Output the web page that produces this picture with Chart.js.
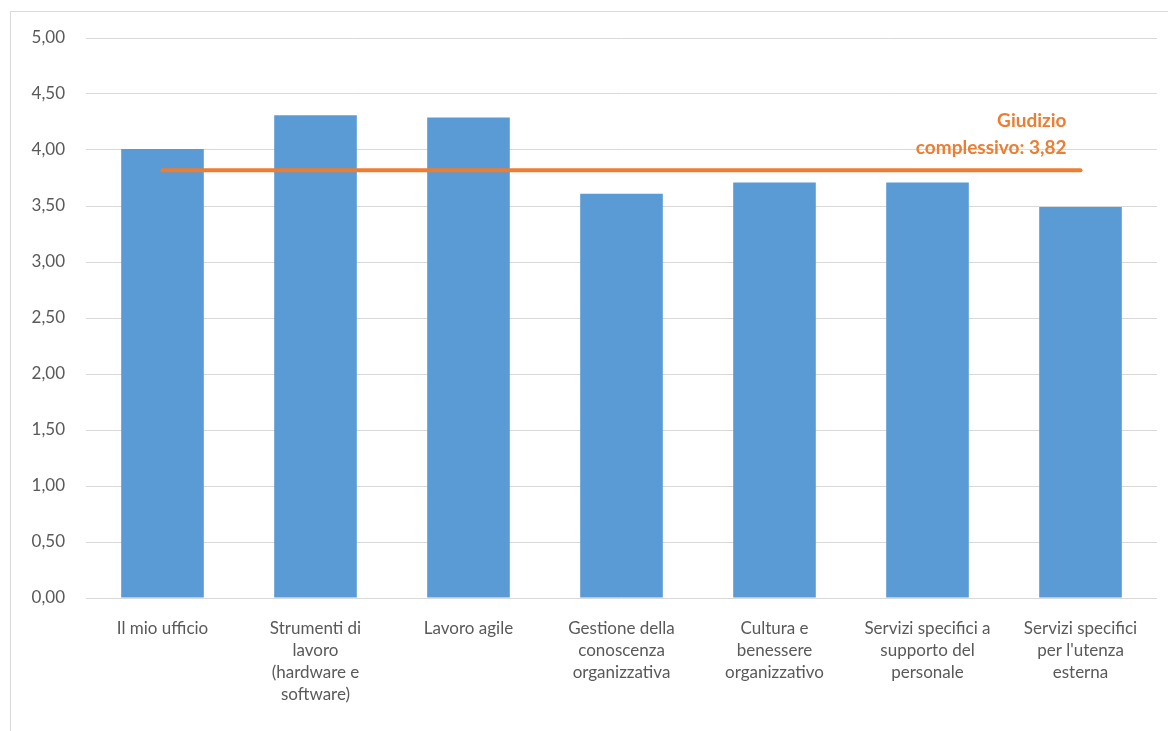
<!DOCTYPE html>
<html>
<head>
<meta charset="utf-8">
<script src="https://cdn.jsdelivr.net/npm/chart.js@4"></script>
<style>
  html, body { margin: 0; padding: 0; background: #fff; }
  .box { position: relative; width: 1168px; height: 731px; overflow: hidden; }
  .frame { position: absolute; left: 10px; top: 11px; width: 1180px; height: 740px; border: 1px solid #d9d9d9; }
  canvas { position: absolute; left: 0; top: 0; }
</style>
</head>
<body>
<div class="box">
  <div class="frame"></div>
  <canvas id="chart" width="1168" height="731"></canvas>
</div>
<script>
'use strict';

// categories and scores
var categories = [
  'Il mio ufficio',
  ['Strumenti di', 'lavoro', '(hardware e', 'software)'],
  'Lavoro agile',
  ['Gestione della', 'conoscenza', 'organizzativa'],
  ['Cultura e', 'benessere', 'organizzativo'],
  ['Servizi specifici a', 'supporto del', 'personale'],
  ['Servizi specifici', 'per l\'utenza', 'esterna']
];
var scores = [4.01, 4.31, 4.29, 3.61, 3.71, 3.71, 3.49];
var overall = 3.82;
var overallLabel = ['Giudizio', 'complessivo: 3,82'];

var blue = '#5b9bd5',
    orange = '#ed7d31',
    grey = '#595959';

// text above the right end of the overall line
var overallText = {
  id: 'overallText',
  afterDatasetsDraw: function (chart) {
    var ctx = chart.ctx,
        x = chart.scales.x.getPixelForValue(categories.length - 1) - 14,
        y = chart.scales.y.getPixelForValue(overall);
    ctx.save();
    ctx.fillStyle = orange;
    ctx.font = 'bold 19px Lato';
    ctx.textAlign = 'right';
    ctx.textBaseline = 'alphabetic';
    ctx.fillText(overallLabel[0], x, y - 43);
    ctx.fillText(overallLabel[1], x, y - 16);
    ctx.restore();
  }
};

new Chart(document.getElementById('chart'), {
  data: {
    labels: categories,
    datasets: [{
      type: 'line',
      data: categories.map(function () { return overall; }),
      borderColor: orange,
      borderWidth: 4,
      borderCapStyle: 'round',
      pointRadius: 0,
      fill: false,
      order: 0
    }, {
      type: 'bar',
      data: scores,
      backgroundColor: blue,
      categoryPercentage: 1,
      barPercentage: 0.54,
      order: 1
    }]
  },
  options: {
    responsive: false,
    animation: false,
    layout: { padding: { top: 38, right: 11, left: 0, bottom: 0 } },
    plugins: {
      legend: { display: false },
      tooltip: { enabled: false }
    },
    scales: {
      x: {
        grid: { display: false },
        border: { display: false },
        ticks: {
          color: grey,
          font: { family: 'Lato', size: 17, lineHeight: 1.3 },
          maxRotation: 0,
          autoSkip: false,
          padding: 11
        },
        afterFit: function (scale) { scale.height = 133; }
      },
      y: {
        min: 0,
        max: 5,
        border: { display: false },
        grid: { color: '#d9d9d9', drawTicks: false },
        ticks: {
          stepSize: 0.5,
          color: grey,
          padding: 21,
          font: { family: 'Lato', size: 17 },
          callback: function (v) { return v.toFixed(2).replace('.', ','); }
        },
        afterFit: function (scale) { scale.width = 86; }
      }
    }
  },
  plugins: [overallText]
});
</script>
</body>
</html>
